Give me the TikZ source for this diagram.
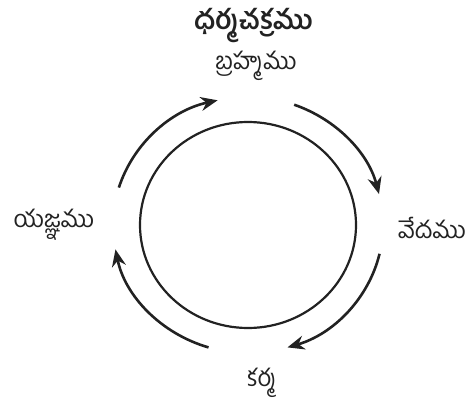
\documentclass[tikz,border=0pt]{standalone}
\usepackage{fontspec}
\newfontfamily\te[Script=Telugu]{Hind Guntur}
\usetikzlibrary{arrows.meta,shapes.geometric}
\definecolor{ink}{HTML}{222222}
\begin{document}
\begin{tikzpicture}[x=1pt,y=1pt,
  lbl/.style={font=\te\fontsize{24}{28}\selectfont, text=ink, inner sep=0pt},
  ttl/.style={font=\te\bfseries\fontsize{27}{32}\selectfont, text=ink, inner sep=0pt},
  arr/.style={draw=ink, line width=2.6pt, -{Stealth[length=17pt,width=14pt]}},
  wheelst/.style={draw=ink, line width=2.2pt, ellipse, minimum width=216pt, minimum height=206pt, inner sep=0pt}]
\useasboundingbox (0,0) rectangle (469,408);
\coordinate (c) at (248,183);
\node[wheelst] (wheel) at (c) {};
\node[ttl] (title) at (254,382) {ధర్మచక్రము};
\node[lbl] (brahma) at (256,342) {బ్రహ్మము};
\node[lbl] (veda) at (432,180) {వేదము};
\node[lbl] (yajna) at (54,183) {యజ్ఞము};
\node[lbl] (karma) at (262,25) {కర్మ};
\draw[arr] (c) ++(163:135pt and 128pt) arc[start angle=163,end angle=103,x radius=135pt,y radius=128pt];
\draw[arr] (c) ++(70:135pt and 128pt) arc[start angle=70,end angle=14,x radius=135pt,y radius=128pt];
\draw[arr] (c) ++(-13:135pt and 128pt) arc[start angle=-13,end angle=-73,x radius=135pt,y radius=128pt];
\draw[arr] (c) ++(-107:135pt and 128pt) arc[start angle=-107,end angle=-169,x radius=135pt,y radius=128pt];
\end{tikzpicture}
\end{document}
